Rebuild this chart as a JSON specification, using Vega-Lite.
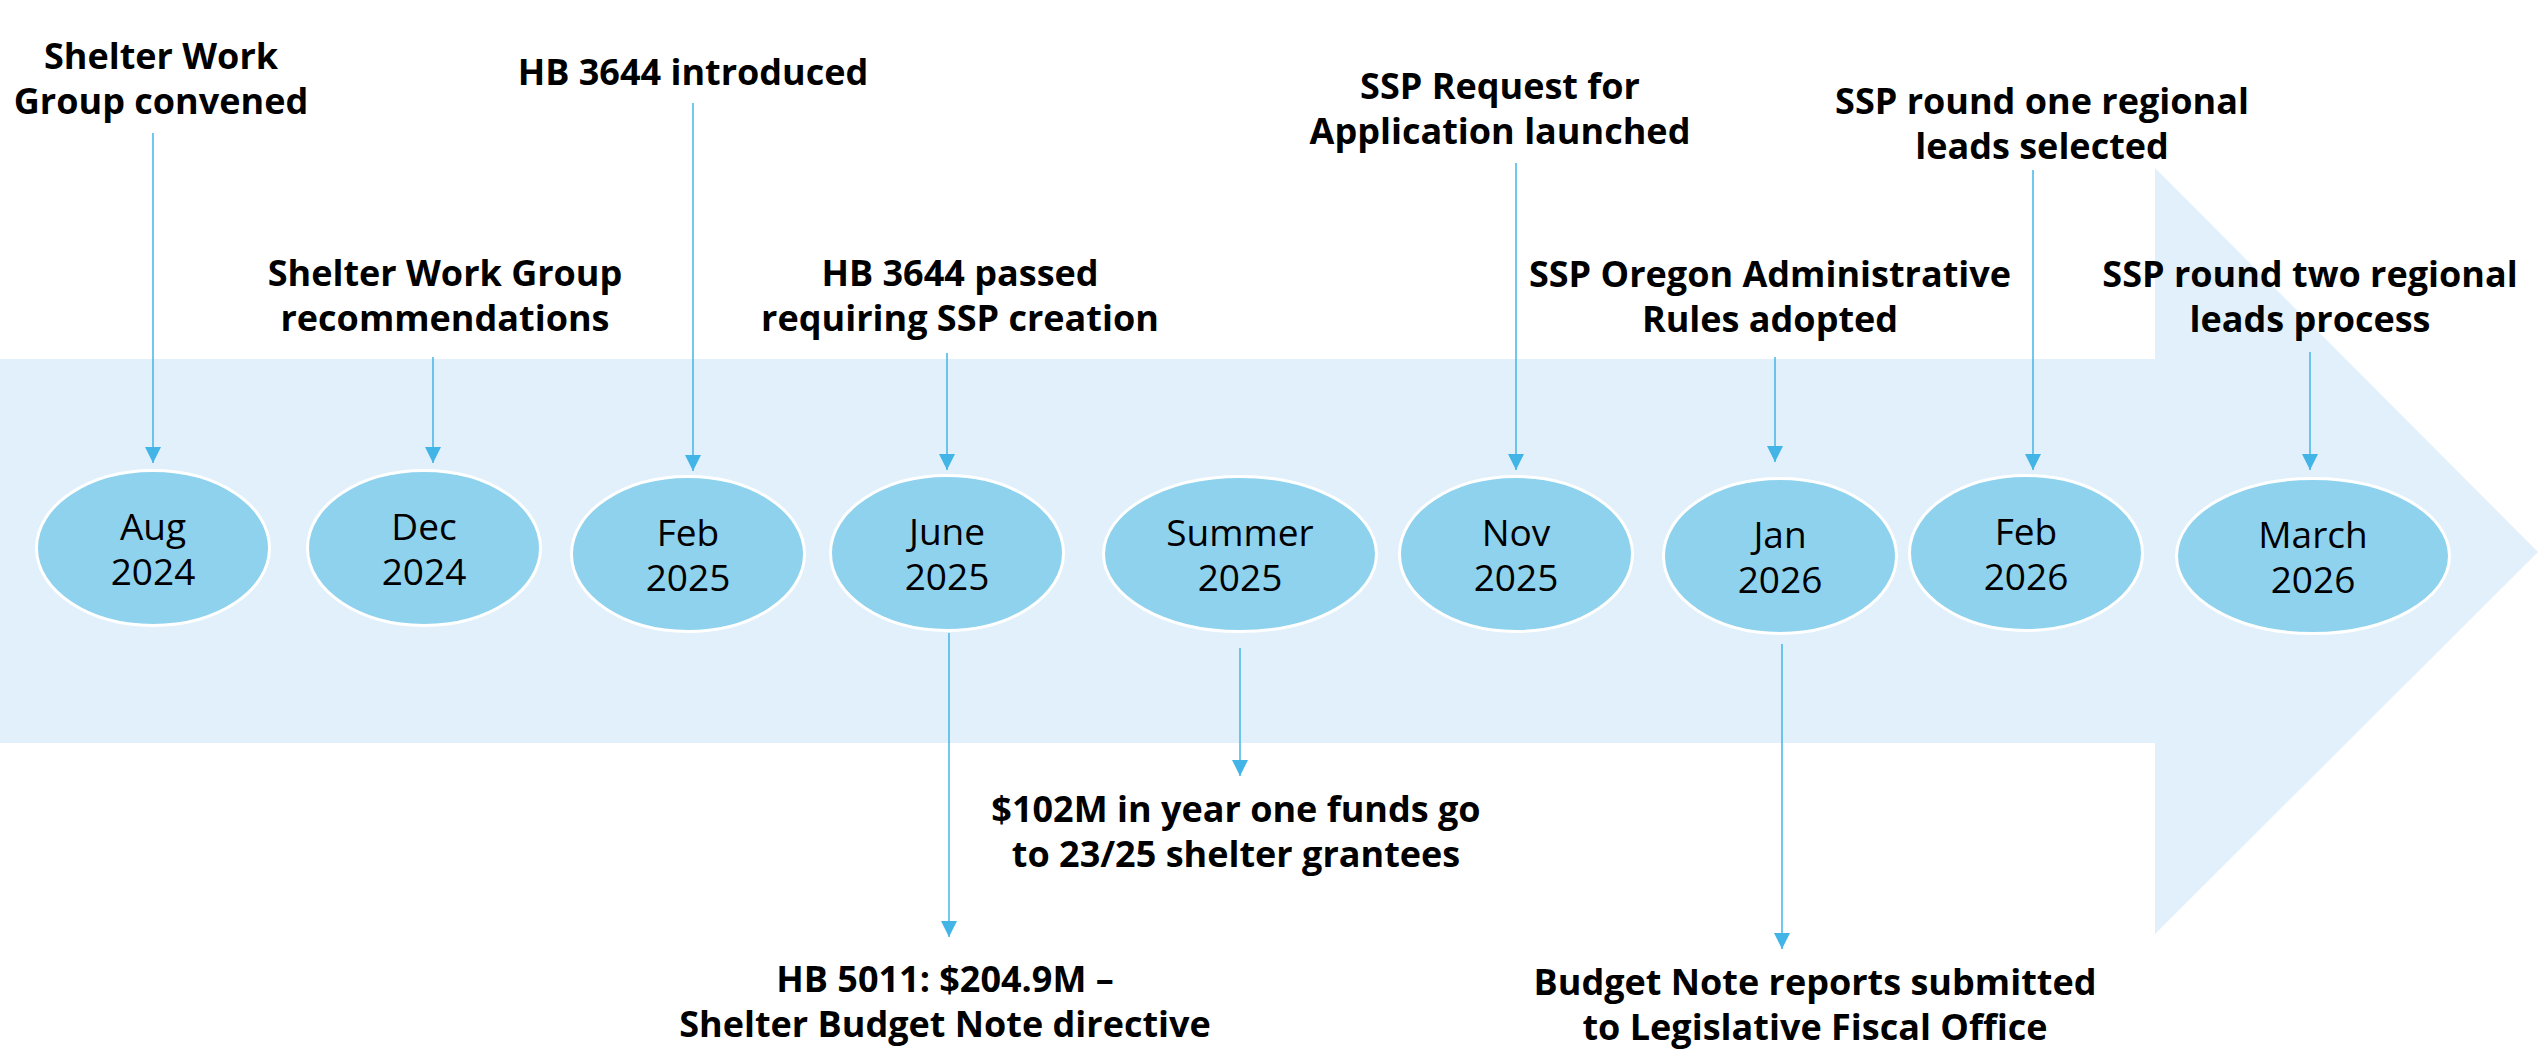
{
  "$schema": "https://vega.github.io/schema/vega-lite/v6.json",
  "width": 2547,
  "height": 1052,
  "autosize": {"type": "fit", "contains": "padding"},
  "padding": 0,
  "background": "white",
  "config": {"view": {"stroke": null}},
  "datasets": {
    "band": [
      {"x1": 0, "x2": 2155, "top": 359, "bot": 743}
    ],
    "head": [
      {"px": 2155, "top": 168, "bot": 934},
      {"px": 2538, "top": 552, "bot": 552}
    ],
    "arrows": [
      {"x": 153, "y1": 133, "tip": 463},
      {"x": 433, "y1": 357, "tip": 463},
      {"x": 693, "y1": 103, "tip": 471},
      {"x": 947, "y1": 353, "tip": 470},
      {"x": 1516, "y1": 163, "tip": 470},
      {"x": 1775, "y1": 357, "tip": 462},
      {"x": 2033, "y1": 170, "tip": 470},
      {"x": 2310, "y1": 352, "tip": 470},
      {"x": 949, "y1": 633, "tip": 937},
      {"x": 1240, "y1": 648, "tip": 776},
      {"x": 1782, "y1": 644, "tip": 949}
    ],
    "events": [
      {"date": "Aug\n2024", "x": 153, "y": 548, "kind": "regular"},
      {"date": "Dec\n2024", "x": 424, "y": 548, "kind": "regular"},
      {"date": "Feb\n2025", "x": 688, "y": 554, "kind": "regular"},
      {"date": "June\n2025", "x": 947, "y": 553, "kind": "regular"},
      {"date": "Summer\n2025", "x": 1240, "y": 554, "kind": "wide"},
      {"date": "Nov\n2025", "x": 1516, "y": 554, "kind": "regular"},
      {"date": "Jan\n2026", "x": 1780, "y": 556, "kind": "regular"},
      {"date": "Feb\n2026", "x": 2026, "y": 553, "kind": "regular"},
      {"date": "March\n2026", "x": 2313, "y": 556, "kind": "wide"}
    ],
    "labels": [
      {"label": "Shelter Work\nGroup convened", "x": 161, "y": 69},
      {"label": "HB 3644 introduced", "x": 693, "y": 85},
      {"label": "Shelter Work Group\nrecommendations", "x": 445, "y": 286},
      {"label": "HB 3644 passed\nrequiring SSP creation", "x": 960, "y": 286},
      {"label": "SSP Request for\nApplication launched", "x": 1500, "y": 99},
      {"label": "SSP Oregon Administrative\nRules adopted", "x": 1770, "y": 287},
      {"label": "SSP round one regional\nleads selected", "x": 2042, "y": 114},
      {"label": "SSP round two regional\nleads process", "x": 2310, "y": 287},
      {"label": "HB 5011: $204.9M –\nShelter Budget Note directive", "x": 945, "y": 992},
      {"label": "$102M in year one funds go\nto 23/25 shelter grantees", "x": 1236, "y": 822},
      {"label": "Budget Note reports submitted\nto Legislative Fiscal Office", "x": 1815, "y": 995}
    ]
  },
  "layer": [
    {
      "data": {"name": "band"},
      "mark": {"type": "rect", "color": "#e1f0fa", "opacity": 1},
      "encoding": {
        "x": {"field": "x1", "type": "quantitative", "scale": {"domain": [0, 2547], "nice": false, "zero": false}, "axis": null},
        "x2": {"field": "x2"},
        "y": {"field": "top", "type": "quantitative", "scale": {"domain": [0, 1052], "nice": false, "zero": false, "reverse": true}, "axis": null},
        "y2": {"field": "bot"}
      }
    },
    {
      "data": {"name": "head"},
      "mark": {"type": "area", "color": "#e1f0fa", "opacity": 1, "orient": "vertical"},
      "encoding": {
        "x": {"field": "px", "type": "quantitative"},
        "y": {"field": "top", "type": "quantitative", "stack": null},
        "y2": {"field": "bot"}
      }
    },
    {
      "data": {"name": "arrows"},
      "mark": {"type": "rule", "color": "#42b4e6", "strokeWidth": 1.5},
      "encoding": {
        "x": {"field": "x", "type": "quantitative"},
        "y": {"field": "y1", "type": "quantitative"},
        "y2": {"field": "tip"}
      }
    },
    {
      "data": {"name": "arrows"},
      "mark": {"type": "point", "shape": "M -1 -2 L 1 -2 L 0 0 Z", "size": 256, "filled": true, "color": "#42b4e6", "opacity": 1, "strokeWidth": 0},
      "encoding": {
        "x": {"field": "x", "type": "quantitative"},
        "y": {"field": "tip", "type": "quantitative"}
      }
    },
    {
      "data": {"name": "events"},
      "mark": {"type": "point", "size": 74529, "filled": true, "fill": "#8fd2ee", "stroke": "white", "strokeWidth": 3, "opacity": 1, "fillOpacity": 1, "strokeOpacity": 1},
      "encoding": {
        "x": {"field": "x", "type": "quantitative"},
        "y": {"field": "y", "type": "quantitative"},
        "shape": {
          "field": "kind",
          "type": "nominal",
          "legend": null,
          "scale": {
            "domain": ["regular", "wide"],
            "range": [
              "M -0.8535 0 C -0.8535 -0.3137 -0.4714 -0.568 0 -0.568 C 0.4714 -0.568 0.8535 -0.3137 0.8535 0 C 0.8535 0.3137 0.4714 0.568 0 0.568 C -0.4714 0.568 -0.8535 0.3137 -0.8535 0 Z",
              "M -1 0 C -1 -0.3137 -0.5523 -0.568 0 -0.568 C 0.5523 -0.568 1 -0.3137 1 0 C 1 0.3137 0.5523 0.568 0 0.568 C -0.5523 0.568 -1 0.3137 -1 0 Z"
            ]
          }
        }
      }
    },
    {
      "data": {"name": "events"},
      "mark": {"type": "text", "font": "Open Sans", "fontSize": 37, "fontWeight": "normal", "color": "#000000", "align": "center", "baseline": "alphabetic", "lineBreak": "\n", "lineHeight": 45, "dy": -8},
      "encoding": {
        "x": {"field": "x", "type": "quantitative"},
        "y": {"field": "y", "type": "quantitative"},
        "text": {"field": "date", "type": "nominal"}
      }
    },
    {
      "data": {"name": "labels"},
      "mark": {"type": "text", "font": "Open Sans", "fontSize": 36, "fontWeight": "bold", "color": "#000000", "align": "center", "baseline": "alphabetic", "lineBreak": "\n", "lineHeight": 45},
      "encoding": {
        "x": {"field": "x", "type": "quantitative"},
        "y": {"field": "y", "type": "quantitative"},
        "text": {"field": "label", "type": "nominal"}
      }
    }
  ]
}
